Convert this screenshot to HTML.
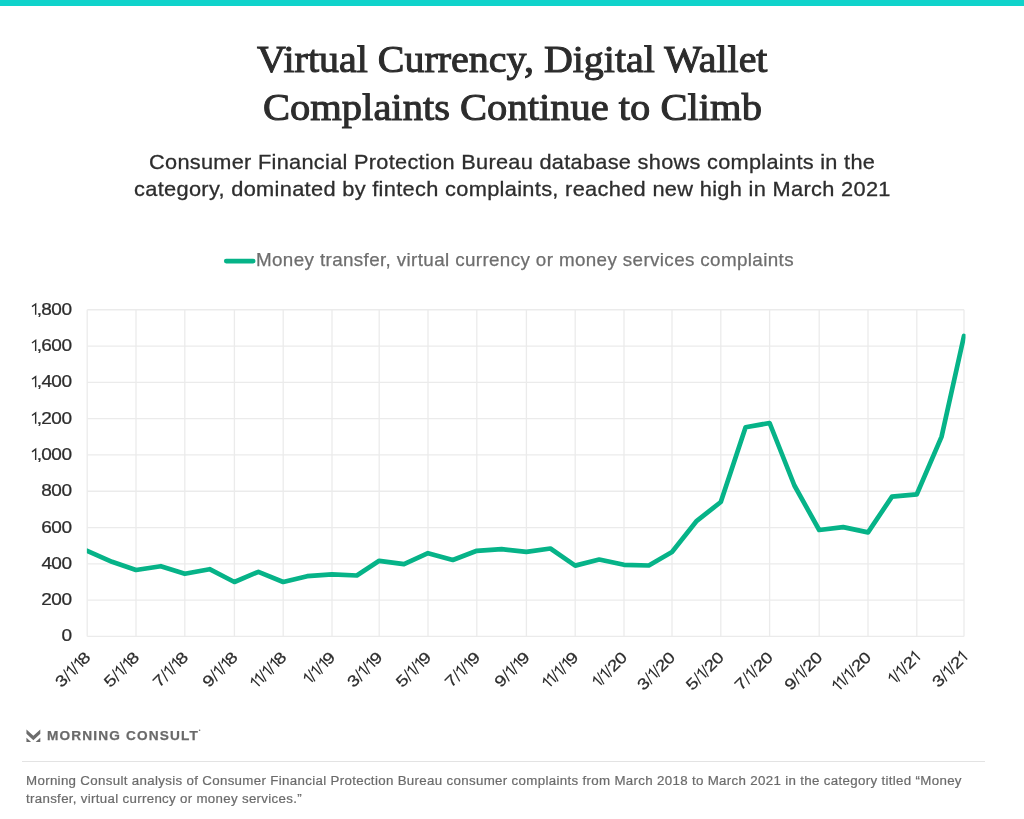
<!DOCTYPE html>
<html><head><meta charset="utf-8"><title>Virtual Currency, Digital Wallet Complaints Continue to Climb</title>
<style>
html,body{margin:0;padding:0;background:#fff;}
body{width:1024px;height:819px;position:relative;overflow:hidden;font-family:"Liberation Sans",sans-serif;}
.bar{position:absolute;left:0;top:0;width:1024px;height:6px;background:#0fd3cb;}
.ln{position:absolute;white-space:nowrap;transform-origin:0 0;margin:0;will-change:transform;}
.sep{position:absolute;left:22.2px;top:761px;width:962.8px;height:1.4px;background:#e3e3e3;}
svg{position:absolute;left:0;top:0;}
svg text{font-family:"Liberation Sans",sans-serif;font-size:15.6px;fill:#2d2d2d;stroke:#2d2d2d;stroke-width:0.25px;}
#t1{left:256.60px;top:34.11px;font-family:"Liberation Serif",serif;font-size:38.5px;font-weight:normal;line-height:50px;color:#2c2c2c;letter-spacing:0px;transform:scaleX(1.0381);-webkit-text-stroke:1.0px #2c2c2c;}
#t2{left:262.70px;top:82.21px;font-family:"Liberation Serif",serif;font-size:38.5px;font-weight:normal;line-height:50px;color:#2c2c2c;letter-spacing:0px;transform:scaleX(1.0530);-webkit-text-stroke:1.0px #2c2c2c;}
#s1{left:148.87px;top:148.32px;font-family:"Liberation Sans",sans-serif;font-size:21px;font-weight:normal;line-height:27px;color:#2d2d2d;letter-spacing:0.3px;transform:scaleX(1.0339);-webkit-text-stroke:0.3px #2d2d2d;}
#s2{left:134.25px;top:175.32px;font-family:"Liberation Sans",sans-serif;font-size:21px;font-weight:normal;line-height:27px;color:#2d2d2d;letter-spacing:0.3px;transform:scaleX(1.0382);-webkit-text-stroke:0.3px #2d2d2d;}
#lg{left:256.04px;top:249.17px;font-family:"Liberation Sans",sans-serif;font-size:17.7px;font-weight:normal;line-height:23px;color:#6e6e6e;letter-spacing:0.35px;transform:scaleX(1.0632);-webkit-text-stroke:0.25px #6e6e6e;}
#f1{left:25.52px;top:773.14px;font-family:"Liberation Sans",sans-serif;font-size:12.3px;font-weight:normal;line-height:16px;color:#6b6b6b;letter-spacing:0.3px;transform:scaleX(1.0822);-webkit-text-stroke:0.2px #6b6b6b;}
#f2{left:26.40px;top:790.84px;font-family:"Liberation Sans",sans-serif;font-size:12.3px;font-weight:normal;line-height:16px;color:#6b6b6b;letter-spacing:0.3px;transform:scaleX(1.0791);-webkit-text-stroke:0.2px #6b6b6b;}
#lo{left:46.95px;top:727.10px;font-family:"Liberation Sans",sans-serif;font-size:13px;font-weight:bold;line-height:17px;color:#6a6a6a;letter-spacing:1.1px;transform:scaleX(1.0497);-webkit-text-stroke:0.25px #6a6a6a;}
</style></head><body>
<div class="bar"></div>
<div class="ln" id="t1">Virtual Currency, Digital Wallet</div>
<div class="ln" id="t2">Complaints Continue to Climb</div>
<div class="ln" id="s1">Consumer Financial Protection Bureau database shows complaints in the</div>
<div class="ln" id="s2">category, dominated by fintech complaints, reached new high in March 2021</div>
<div class="ln" id="lg">Money transfer, virtual currency or money services complaints</div>
<div class="ln" id="f1">Morning Consult analysis of Consumer Financial Protection Bureau consumer complaints from March 2018 to March 2021 in the category titled “Money</div>
<div class="ln" id="f2">transfer, virtual currency or money services.”</div>
<div class="ln" id="lo">MORNING CONSULT</div>
<svg width="1024" height="819" viewBox="0 0 1024 819">
<g stroke="#ebebeb" stroke-width="1.3" fill="none">
<line x1="87.2" x2="964.0" y1="309.75" y2="309.75"/>
<line x1="87.2" x2="964.0" y1="346.05" y2="346.05"/>
<line x1="87.2" x2="964.0" y1="382.35" y2="382.35"/>
<line x1="87.2" x2="964.0" y1="418.65" y2="418.65"/>
<line x1="87.2" x2="964.0" y1="454.95" y2="454.95"/>
<line x1="87.2" x2="964.0" y1="491.25" y2="491.25"/>
<line x1="87.2" x2="964.0" y1="527.55" y2="527.55"/>
<line x1="87.2" x2="964.0" y1="563.85" y2="563.85"/>
<line x1="87.2" x2="964.0" y1="600.15" y2="600.15"/>
<line x1="87.2" x2="964.0" y1="636.45" y2="636.45"/>
<line x1="87.20" x2="87.20" y1="309.75" y2="636.45"/>
<line x1="136.00" x2="136.00" y1="309.75" y2="636.45"/>
<line x1="184.80" x2="184.80" y1="309.75" y2="636.45"/>
<line x1="234.40" x2="234.40" y1="309.75" y2="636.45"/>
<line x1="283.20" x2="283.20" y1="309.75" y2="636.45"/>
<line x1="332.00" x2="332.00" y1="309.75" y2="636.45"/>
<line x1="379.20" x2="379.20" y1="309.75" y2="636.45"/>
<line x1="428.00" x2="428.00" y1="309.75" y2="636.45"/>
<line x1="476.80" x2="476.80" y1="309.75" y2="636.45"/>
<line x1="526.40" x2="526.40" y1="309.75" y2="636.45"/>
<line x1="575.20" x2="575.20" y1="309.75" y2="636.45"/>
<line x1="624.00" x2="624.00" y1="309.75" y2="636.45"/>
<line x1="672.00" x2="672.00" y1="309.75" y2="636.45"/>
<line x1="720.80" x2="720.80" y1="309.75" y2="636.45"/>
<line x1="769.60" x2="769.60" y1="309.75" y2="636.45"/>
<line x1="819.20" x2="819.20" y1="309.75" y2="636.45"/>
<line x1="868.00" x2="868.00" y1="309.75" y2="636.45"/>
<line x1="916.80" x2="916.80" y1="309.75" y2="636.45"/>
<line x1="964.00" x2="964.00" y1="309.75" y2="636.45"/>
</g>
<g><g transform="translate(71.85,314.75)"><path d="M-39.85 -8.1 L-36.20 -10.75 L-36.20 0" fill="none" stroke="#2d2d2d" stroke-width="1.4"/><text transform="translate(-35.18,0) scale(1.22,1)">,</text><text transform="translate(-30.66,0) scale(1.22,1)">8</text><text transform="translate(-20.57,0) scale(1.22,1)">0</text><text transform="translate(-10.42,0) scale(1.22,1)">0</text></g>
<g transform="translate(71.85,351.05)"><path d="M-39.85 -8.1 L-36.20 -10.75 L-36.20 0" fill="none" stroke="#2d2d2d" stroke-width="1.4"/><text transform="translate(-35.18,0) scale(1.22,1)">,</text><text transform="translate(-30.63,0) scale(1.22,1)">6</text><text transform="translate(-20.57,0) scale(1.22,1)">0</text><text transform="translate(-10.42,0) scale(1.22,1)">0</text></g>
<g transform="translate(71.85,387.35)"><path d="M-39.85 -8.1 L-36.20 -10.75 L-36.20 0" fill="none" stroke="#2d2d2d" stroke-width="1.4"/><text transform="translate(-35.18,0) scale(1.22,1)">,</text><text transform="translate(-30.42,0) scale(1.22,1)">4</text><text transform="translate(-20.57,0) scale(1.22,1)">0</text><text transform="translate(-10.42,0) scale(1.22,1)">0</text></g>
<g transform="translate(71.85,423.65)"><path d="M-39.85 -8.1 L-36.20 -10.75 L-36.20 0" fill="none" stroke="#2d2d2d" stroke-width="1.4"/><text transform="translate(-35.18,0) scale(1.22,1)">,</text><text transform="translate(-30.51,0) scale(1.22,1)">2</text><text transform="translate(-20.57,0) scale(1.22,1)">0</text><text transform="translate(-10.42,0) scale(1.22,1)">0</text></g>
<g transform="translate(71.85,459.95)"><path d="M-39.85 -8.1 L-36.20 -10.75 L-36.20 0" fill="none" stroke="#2d2d2d" stroke-width="1.4"/><text transform="translate(-35.18,0) scale(1.22,1)">,</text><text transform="translate(-30.72,0) scale(1.22,1)">0</text><text transform="translate(-20.57,0) scale(1.22,1)">0</text><text transform="translate(-10.42,0) scale(1.22,1)">0</text></g>
<g transform="translate(71.85,496.25)"><text transform="translate(-30.66,0) scale(1.22,1)">8</text><text transform="translate(-20.57,0) scale(1.22,1)">0</text><text transform="translate(-10.42,0) scale(1.22,1)">0</text></g>
<g transform="translate(71.85,532.55)"><text transform="translate(-30.63,0) scale(1.22,1)">6</text><text transform="translate(-20.57,0) scale(1.22,1)">0</text><text transform="translate(-10.42,0) scale(1.22,1)">0</text></g>
<g transform="translate(71.85,568.85)"><text transform="translate(-30.42,0) scale(1.22,1)">4</text><text transform="translate(-20.57,0) scale(1.22,1)">0</text><text transform="translate(-10.42,0) scale(1.22,1)">0</text></g>
<g transform="translate(71.85,605.15)"><text transform="translate(-30.51,0) scale(1.22,1)">2</text><text transform="translate(-20.57,0) scale(1.22,1)">0</text><text transform="translate(-10.42,0) scale(1.22,1)">0</text></g>
<g transform="translate(71.85,641.45)"><text transform="translate(-10.42,0) scale(1.22,1)">0</text></g></g>
<g><g transform="translate(87.20,654.7) rotate(-45) translate(0.3,5.6)"><text transform="translate(-42.11,0) scale(1.22,1)">3</text><line x1="-31.25" y1="1.2" x2="-27.45" y2="-11.80" stroke="#2d2d2d" stroke-width="1.2"/><path d="M-25.95 -8.1 L-22.30 -10.75 L-22.30 0" fill="none" stroke="#2d2d2d" stroke-width="1.4"/><line x1="-20.45" y1="1.2" x2="-16.65" y2="-11.80" stroke="#2d2d2d" stroke-width="1.2"/><path d="M-15.15 -8.1 L-11.50 -10.75 L-11.50 0" fill="none" stroke="#2d2d2d" stroke-width="1.4"/><text transform="translate(-10.36,0) scale(1.22,1)">8</text></g>
<g transform="translate(136.00,654.7) rotate(-45) translate(0.3,5.6)"><text transform="translate(-42.15,0) scale(1.22,1)">5</text><line x1="-31.25" y1="1.2" x2="-27.45" y2="-11.80" stroke="#2d2d2d" stroke-width="1.2"/><path d="M-25.95 -8.1 L-22.30 -10.75 L-22.30 0" fill="none" stroke="#2d2d2d" stroke-width="1.4"/><line x1="-20.45" y1="1.2" x2="-16.65" y2="-11.80" stroke="#2d2d2d" stroke-width="1.2"/><path d="M-15.15 -8.1 L-11.50 -10.75 L-11.50 0" fill="none" stroke="#2d2d2d" stroke-width="1.4"/><text transform="translate(-10.36,0) scale(1.22,1)">8</text></g>
<g transform="translate(184.80,654.7) rotate(-45) translate(0.3,5.6)"><text transform="translate(-42.15,0) scale(1.22,1)">7</text><line x1="-31.25" y1="1.2" x2="-27.45" y2="-11.80" stroke="#2d2d2d" stroke-width="1.2"/><path d="M-25.95 -8.1 L-22.30 -10.75 L-22.30 0" fill="none" stroke="#2d2d2d" stroke-width="1.4"/><line x1="-20.45" y1="1.2" x2="-16.65" y2="-11.80" stroke="#2d2d2d" stroke-width="1.2"/><path d="M-15.15 -8.1 L-11.50 -10.75 L-11.50 0" fill="none" stroke="#2d2d2d" stroke-width="1.4"/><text transform="translate(-10.36,0) scale(1.22,1)">8</text></g>
<g transform="translate(234.40,654.7) rotate(-45) translate(0.3,5.6)"><text transform="translate(-42.11,0) scale(1.22,1)">9</text><line x1="-31.25" y1="1.2" x2="-27.45" y2="-11.80" stroke="#2d2d2d" stroke-width="1.2"/><path d="M-25.95 -8.1 L-22.30 -10.75 L-22.30 0" fill="none" stroke="#2d2d2d" stroke-width="1.4"/><line x1="-20.45" y1="1.2" x2="-16.65" y2="-11.80" stroke="#2d2d2d" stroke-width="1.2"/><path d="M-15.15 -8.1 L-11.50 -10.75 L-11.50 0" fill="none" stroke="#2d2d2d" stroke-width="1.4"/><text transform="translate(-10.36,0) scale(1.22,1)">8</text></g>
<g transform="translate(283.20,654.7) rotate(-45) translate(0.3,5.6)"><path d="M-42.75 -8.1 L-39.10 -10.75 L-39.10 0" fill="none" stroke="#2d2d2d" stroke-width="1.4"/><path d="M-36.75 -8.1 L-33.10 -10.75 L-33.10 0" fill="none" stroke="#2d2d2d" stroke-width="1.4"/><line x1="-31.25" y1="1.2" x2="-27.45" y2="-11.80" stroke="#2d2d2d" stroke-width="1.2"/><path d="M-25.95 -8.1 L-22.30 -10.75 L-22.30 0" fill="none" stroke="#2d2d2d" stroke-width="1.4"/><line x1="-20.45" y1="1.2" x2="-16.65" y2="-11.80" stroke="#2d2d2d" stroke-width="1.2"/><path d="M-15.15 -8.1 L-11.50 -10.75 L-11.50 0" fill="none" stroke="#2d2d2d" stroke-width="1.4"/><text transform="translate(-10.36,0) scale(1.22,1)">8</text></g>
<g transform="translate(332.00,654.7) rotate(-45) translate(0.3,5.6)"><path d="M-36.75 -8.1 L-33.10 -10.75 L-33.10 0" fill="none" stroke="#2d2d2d" stroke-width="1.4"/><line x1="-31.25" y1="1.2" x2="-27.45" y2="-11.80" stroke="#2d2d2d" stroke-width="1.2"/><path d="M-25.95 -8.1 L-22.30 -10.75 L-22.30 0" fill="none" stroke="#2d2d2d" stroke-width="1.4"/><line x1="-20.45" y1="1.2" x2="-16.65" y2="-11.80" stroke="#2d2d2d" stroke-width="1.2"/><path d="M-15.15 -8.1 L-11.50 -10.75 L-11.50 0" fill="none" stroke="#2d2d2d" stroke-width="1.4"/><text transform="translate(-10.36,0) scale(1.22,1)">9</text></g>
<g transform="translate(379.20,654.7) rotate(-45) translate(0.3,5.6)"><text transform="translate(-42.11,0) scale(1.22,1)">3</text><line x1="-31.25" y1="1.2" x2="-27.45" y2="-11.80" stroke="#2d2d2d" stroke-width="1.2"/><path d="M-25.95 -8.1 L-22.30 -10.75 L-22.30 0" fill="none" stroke="#2d2d2d" stroke-width="1.4"/><line x1="-20.45" y1="1.2" x2="-16.65" y2="-11.80" stroke="#2d2d2d" stroke-width="1.2"/><path d="M-15.15 -8.1 L-11.50 -10.75 L-11.50 0" fill="none" stroke="#2d2d2d" stroke-width="1.4"/><text transform="translate(-10.36,0) scale(1.22,1)">9</text></g>
<g transform="translate(428.00,654.7) rotate(-45) translate(0.3,5.6)"><text transform="translate(-42.15,0) scale(1.22,1)">5</text><line x1="-31.25" y1="1.2" x2="-27.45" y2="-11.80" stroke="#2d2d2d" stroke-width="1.2"/><path d="M-25.95 -8.1 L-22.30 -10.75 L-22.30 0" fill="none" stroke="#2d2d2d" stroke-width="1.4"/><line x1="-20.45" y1="1.2" x2="-16.65" y2="-11.80" stroke="#2d2d2d" stroke-width="1.2"/><path d="M-15.15 -8.1 L-11.50 -10.75 L-11.50 0" fill="none" stroke="#2d2d2d" stroke-width="1.4"/><text transform="translate(-10.36,0) scale(1.22,1)">9</text></g>
<g transform="translate(476.80,654.7) rotate(-45) translate(0.3,5.6)"><text transform="translate(-42.15,0) scale(1.22,1)">7</text><line x1="-31.25" y1="1.2" x2="-27.45" y2="-11.80" stroke="#2d2d2d" stroke-width="1.2"/><path d="M-25.95 -8.1 L-22.30 -10.75 L-22.30 0" fill="none" stroke="#2d2d2d" stroke-width="1.4"/><line x1="-20.45" y1="1.2" x2="-16.65" y2="-11.80" stroke="#2d2d2d" stroke-width="1.2"/><path d="M-15.15 -8.1 L-11.50 -10.75 L-11.50 0" fill="none" stroke="#2d2d2d" stroke-width="1.4"/><text transform="translate(-10.36,0) scale(1.22,1)">9</text></g>
<g transform="translate(526.40,654.7) rotate(-45) translate(0.3,5.6)"><text transform="translate(-42.11,0) scale(1.22,1)">9</text><line x1="-31.25" y1="1.2" x2="-27.45" y2="-11.80" stroke="#2d2d2d" stroke-width="1.2"/><path d="M-25.95 -8.1 L-22.30 -10.75 L-22.30 0" fill="none" stroke="#2d2d2d" stroke-width="1.4"/><line x1="-20.45" y1="1.2" x2="-16.65" y2="-11.80" stroke="#2d2d2d" stroke-width="1.2"/><path d="M-15.15 -8.1 L-11.50 -10.75 L-11.50 0" fill="none" stroke="#2d2d2d" stroke-width="1.4"/><text transform="translate(-10.36,0) scale(1.22,1)">9</text></g>
<g transform="translate(575.20,654.7) rotate(-45) translate(0.3,5.6)"><path d="M-42.75 -8.1 L-39.10 -10.75 L-39.10 0" fill="none" stroke="#2d2d2d" stroke-width="1.4"/><path d="M-36.75 -8.1 L-33.10 -10.75 L-33.10 0" fill="none" stroke="#2d2d2d" stroke-width="1.4"/><line x1="-31.25" y1="1.2" x2="-27.45" y2="-11.80" stroke="#2d2d2d" stroke-width="1.2"/><path d="M-25.95 -8.1 L-22.30 -10.75 L-22.30 0" fill="none" stroke="#2d2d2d" stroke-width="1.4"/><line x1="-20.45" y1="1.2" x2="-16.65" y2="-11.80" stroke="#2d2d2d" stroke-width="1.2"/><path d="M-15.15 -8.1 L-11.50 -10.75 L-11.50 0" fill="none" stroke="#2d2d2d" stroke-width="1.4"/><text transform="translate(-10.36,0) scale(1.22,1)">9</text></g>
<g transform="translate(624.00,654.7) rotate(-45) translate(0.3,5.6)"><path d="M-40.90 -8.1 L-37.25 -10.75 L-37.25 0" fill="none" stroke="#2d2d2d" stroke-width="1.4"/><line x1="-35.40" y1="1.2" x2="-31.60" y2="-11.80" stroke="#2d2d2d" stroke-width="1.2"/><path d="M-30.10 -8.1 L-26.45 -10.75 L-26.45 0" fill="none" stroke="#2d2d2d" stroke-width="1.4"/><line x1="-24.60" y1="1.2" x2="-20.80" y2="-11.80" stroke="#2d2d2d" stroke-width="1.2"/><text transform="translate(-20.36,0) scale(1.22,1)">2</text><text transform="translate(-10.42,0) scale(1.22,1)">0</text></g>
<g transform="translate(672.00,654.7) rotate(-45) translate(0.3,5.6)"><text transform="translate(-46.26,0) scale(1.22,1)">3</text><line x1="-35.40" y1="1.2" x2="-31.60" y2="-11.80" stroke="#2d2d2d" stroke-width="1.2"/><path d="M-30.10 -8.1 L-26.45 -10.75 L-26.45 0" fill="none" stroke="#2d2d2d" stroke-width="1.4"/><line x1="-24.60" y1="1.2" x2="-20.80" y2="-11.80" stroke="#2d2d2d" stroke-width="1.2"/><text transform="translate(-20.36,0) scale(1.22,1)">2</text><text transform="translate(-10.42,0) scale(1.22,1)">0</text></g>
<g transform="translate(720.80,654.7) rotate(-45) translate(0.3,5.6)"><text transform="translate(-46.30,0) scale(1.22,1)">5</text><line x1="-35.40" y1="1.2" x2="-31.60" y2="-11.80" stroke="#2d2d2d" stroke-width="1.2"/><path d="M-30.10 -8.1 L-26.45 -10.75 L-26.45 0" fill="none" stroke="#2d2d2d" stroke-width="1.4"/><line x1="-24.60" y1="1.2" x2="-20.80" y2="-11.80" stroke="#2d2d2d" stroke-width="1.2"/><text transform="translate(-20.36,0) scale(1.22,1)">2</text><text transform="translate(-10.42,0) scale(1.22,1)">0</text></g>
<g transform="translate(769.60,654.7) rotate(-45) translate(0.3,5.6)"><text transform="translate(-46.30,0) scale(1.22,1)">7</text><line x1="-35.40" y1="1.2" x2="-31.60" y2="-11.80" stroke="#2d2d2d" stroke-width="1.2"/><path d="M-30.10 -8.1 L-26.45 -10.75 L-26.45 0" fill="none" stroke="#2d2d2d" stroke-width="1.4"/><line x1="-24.60" y1="1.2" x2="-20.80" y2="-11.80" stroke="#2d2d2d" stroke-width="1.2"/><text transform="translate(-20.36,0) scale(1.22,1)">2</text><text transform="translate(-10.42,0) scale(1.22,1)">0</text></g>
<g transform="translate(819.20,654.7) rotate(-45) translate(0.3,5.6)"><text transform="translate(-46.26,0) scale(1.22,1)">9</text><line x1="-35.40" y1="1.2" x2="-31.60" y2="-11.80" stroke="#2d2d2d" stroke-width="1.2"/><path d="M-30.10 -8.1 L-26.45 -10.75 L-26.45 0" fill="none" stroke="#2d2d2d" stroke-width="1.4"/><line x1="-24.60" y1="1.2" x2="-20.80" y2="-11.80" stroke="#2d2d2d" stroke-width="1.2"/><text transform="translate(-20.36,0) scale(1.22,1)">2</text><text transform="translate(-10.42,0) scale(1.22,1)">0</text></g>
<g transform="translate(868.00,654.7) rotate(-45) translate(0.3,5.6)"><path d="M-46.90 -8.1 L-43.25 -10.75 L-43.25 0" fill="none" stroke="#2d2d2d" stroke-width="1.4"/><path d="M-40.90 -8.1 L-37.25 -10.75 L-37.25 0" fill="none" stroke="#2d2d2d" stroke-width="1.4"/><line x1="-35.40" y1="1.2" x2="-31.60" y2="-11.80" stroke="#2d2d2d" stroke-width="1.2"/><path d="M-30.10 -8.1 L-26.45 -10.75 L-26.45 0" fill="none" stroke="#2d2d2d" stroke-width="1.4"/><line x1="-24.60" y1="1.2" x2="-20.80" y2="-11.80" stroke="#2d2d2d" stroke-width="1.2"/><text transform="translate(-20.36,0) scale(1.22,1)">2</text><text transform="translate(-10.42,0) scale(1.22,1)">0</text></g>
<g transform="translate(916.80,654.7) rotate(-45) translate(0.3,5.6)"><path d="M-36.75 -8.1 L-33.10 -10.75 L-33.10 0" fill="none" stroke="#2d2d2d" stroke-width="1.4"/><line x1="-31.25" y1="1.2" x2="-27.45" y2="-11.80" stroke="#2d2d2d" stroke-width="1.2"/><path d="M-25.95 -8.1 L-22.30 -10.75 L-22.30 0" fill="none" stroke="#2d2d2d" stroke-width="1.4"/><line x1="-20.45" y1="1.2" x2="-16.65" y2="-11.80" stroke="#2d2d2d" stroke-width="1.2"/><text transform="translate(-16.21,0) scale(1.22,1)">2</text><path d="M-5.00 -8.1 L-1.35 -10.75 L-1.35 0" fill="none" stroke="#2d2d2d" stroke-width="1.4"/></g>
<g transform="translate(964.00,654.7) rotate(-45) translate(0.3,5.6)"><text transform="translate(-42.11,0) scale(1.22,1)">3</text><line x1="-31.25" y1="1.2" x2="-27.45" y2="-11.80" stroke="#2d2d2d" stroke-width="1.2"/><path d="M-25.95 -8.1 L-22.30 -10.75 L-22.30 0" fill="none" stroke="#2d2d2d" stroke-width="1.4"/><line x1="-20.45" y1="1.2" x2="-16.65" y2="-11.80" stroke="#2d2d2d" stroke-width="1.2"/><text transform="translate(-16.21,0) scale(1.22,1)">2</text><path d="M-5.00 -8.1 L-1.35 -10.75 L-1.35 0" fill="none" stroke="#2d2d2d" stroke-width="1.4"/></g></g>
<clipPath id="pc"><rect x="86.9" y="300" width="878.6" height="345"/></clipPath>
<polyline clip-path="url(#pc)" points="87.2,550.8 112.0,561.8 136.0,570.0 160.8,566.2 184.8,573.8 209.6,569.2 234.4,582.0 258.4,571.8 283.2,582.0 307.2,576.2 332.0,574.3 356.8,575.5 379.2,560.8 404.0,564.2 428.0,553.2 452.8,560.0 476.8,550.8 501.6,549.2 526.4,551.8 550.4,548.5 575.2,565.6 599.2,559.5 624.0,564.8 648.8,565.5 672.0,552.0 696.8,520.8 720.8,502.0 745.6,427.3 769.6,423.0 794.4,485.5 819.2,530.0 843.2,527.1 868.0,532.4 892.0,496.6 916.8,494.3 941.6,436.6 964.0,336.0" fill="none" stroke="#06b388" stroke-width="4.7" stroke-linejoin="round" stroke-linecap="round"/>
<line x1="226.2" x2="253.2" y1="261.1" y2="261.1" stroke="#06b388" stroke-width="4.6" stroke-linecap="round"/>
<g fill="#6c6c6c"><path d="M26.45 729.4 L33.35 735.7 L40.3 729.4 L40.3 733.7 L33.35 740.2 L26.45 733.7 Z"/><path d="M26.45 737.8 L31.1 741.9 L26.45 741.9 Z"/><path d="M40.3 737.8 L35.6 741.9 L40.3 741.9 Z"/><circle cx="199.6" cy="730.3" r="0.8"/></g>
</svg>
<div class="sep"></div>
</body></html>
